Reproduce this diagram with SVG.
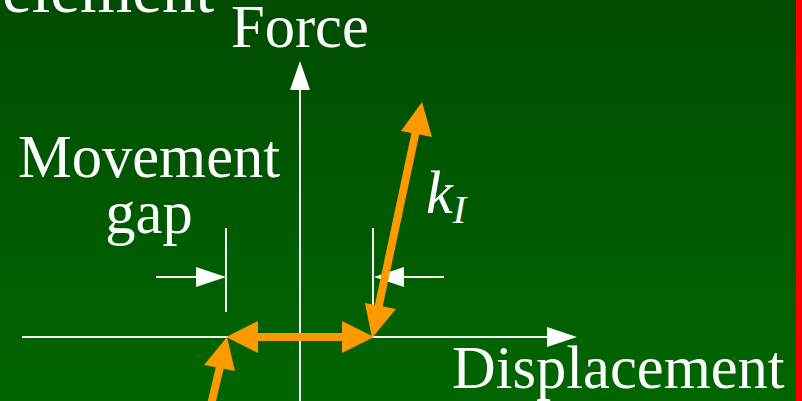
<svg xmlns="http://www.w3.org/2000/svg" width="802" height="401" viewBox="0 0 802 401">
<defs>
<linearGradient id="bg" x1="0" y1="0" x2="0" y2="1">
<stop offset="0" stop-color="#004c00"/>
<stop offset="1" stop-color="#006600"/>
</linearGradient>
<style>
text{font-family:"Liberation Serif","Times New Roman",serif;fill:#ffffff}
.lbl{font-size:60.5px}
.ax{stroke:#f2f2f2;stroke-width:2;fill:none}
.ah{fill:#ffffff}
.or{stroke:#ff9900;stroke-width:8;fill:none}
.oh{fill:#ff9900}
</style>
</defs>
<rect x="0" y="0" width="802" height="401" fill="url(#bg)"/>
<rect x="796" y="0" width="6" height="401" fill="#ff0000"/>
<g id="title"><text x="214" y="12" text-anchor="end" style="font-size:67px">element</text></g>
<g id="connectors">
<line class="ax" x1="300" y1="88" x2="300" y2="401"/>
<polygon class="ah" points="300,61 310,90 290,90"/>
<line class="ax" x1="22" y1="337" x2="548" y2="337"/>
<polygon class="ah" points="577,337 547,327 547,347"/>
<line class="ax" x1="226" y1="228" x2="226" y2="312"/>
<line class="ax" x1="156" y1="277" x2="198" y2="277"/>
<polygon class="ah" points="226,277 196,267 196,287"/>
<line class="ax" x1="373" y1="228" x2="373" y2="312"/>
<line class="ax" x1="444" y1="277" x2="402" y2="277"/>
<polygon class="ah" points="374,277 404,267 404,287"/>
<line class="or" x1="250" y1="337" x2="350" y2="337"/>
<polygon class="oh" points="226,337 258,321 258,353"/>
<polygon class="oh" points="374,337 342,321 342,353"/>
<line class="or" x1="377" y1="314" x2="417" y2="126"/>
<polygon class="oh" points="372,338 365,303 396,309"/>
<polygon class="oh" points="422,102 432,137 401,131"/>
<line class="or" x1="211" y1="405" x2="222" y2="358"/>
<polygon class="oh" points="227,337 235,371 204,365"/>
</g>
<g id="force"><text class="lbl" x="231" y="47">Force</text></g>
<g id="displacement"><text class="lbl" x="452" y="388">Displacement</text></g>
<g id="gap"><text class="lbl" x="149" y="177" text-anchor="middle">Movement</text><text class="lbl" x="149" y="233" text-anchor="middle">gap</text></g>
<g id="kI"><text class="lbl" x="426" y="213" font-style="italic">k<tspan style="font-size:40px" dy="10">I</tspan></text></g>
</svg>
